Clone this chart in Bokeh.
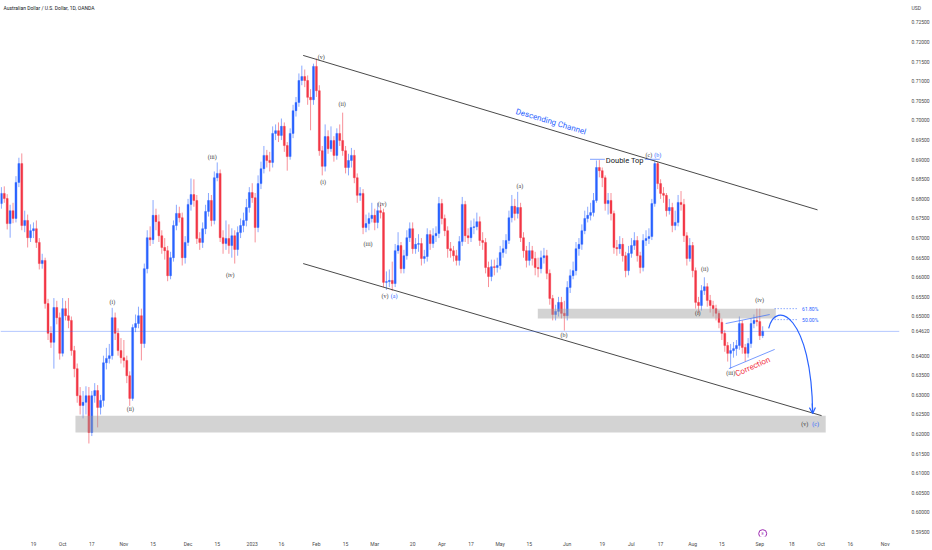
import numpy as np
import pandas as pd
from bokeh.plotting import figure
from bokeh.models import (LinearAxis, FixedTicker, Range1d, ColumnDataSource, Label,
                          Span, Arrow, OpenHead, PrintfTickFormatter, Grid)
from bokeh.core.properties import value
from bokeh.embed import file_html
from bokeh.resources import INLINE

# ---------------- data (AUDUSD daily, OANDA) ----------------
start_date = "2022-09-02"
first_open = 0.6788
closes = [
    0.6814, 0.6801, 0.6737, 0.6770, 0.6750, 0.6842, 0.6890, 0.6732, 0.6745, 0.6701, 0.6719,
    0.6724, 0.6689, 0.6635, 0.6643, 0.6533, 0.6457, 0.6434, 0.6523, 0.6497, 0.6406,
    0.6520, 0.6502, 0.6490, 0.6413, 0.6367, 0.6298, 0.6273, 0.6281, 0.6298, 0.6204,
    0.6298, 0.6311, 0.6268, 0.6286, 0.6382, 0.6393, 0.6400, 0.6497, 0.6457, 0.6413,
    0.6395, 0.6388, 0.6349, 0.6291, 0.6472, 0.6482, 0.6502, 0.6431, 0.6622, 0.6701,
    0.6696, 0.6758, 0.6742, 0.6706, 0.6676, 0.6668, 0.6604, 0.6650, 0.6732, 0.6763,
    0.6752, 0.6650, 0.6689, 0.6786, 0.6811, 0.6796, 0.6699, 0.6689, 0.6724, 0.6768,
    0.6796, 0.6745, 0.6854, 0.6865, 0.6701, 0.6686, 0.6699, 0.6681, 0.6706, 0.6671,
    0.6714, 0.6732, 0.6745, 0.6778, 0.6816, 0.6803, 0.6727, 0.6839, 0.6877, 0.6911,
    0.6898, 0.6893, 0.6967, 0.6974, 0.6962, 0.6985, 0.6936, 0.6908, 0.6967, 0.7025,
    0.7046, 0.7102, 0.7112, 0.7102, 0.7059, 0.7053, 0.7138, 0.7076, 0.6923, 0.6883,
    0.6959, 0.6928, 0.6949, 0.6911, 0.6967, 0.6949, 0.6923, 0.6880, 0.6898, 0.6911,
    0.6854, 0.6809, 0.6814, 0.6727, 0.6737, 0.6750, 0.6758, 0.6740, 0.6770, 0.6765,
    0.6587, 0.6589, 0.6592, 0.6584, 0.6668, 0.6681, 0.6622, 0.6655, 0.6701, 0.6724,
    0.6673, 0.6684, 0.6686, 0.6648, 0.6653, 0.6709, 0.6686, 0.6706, 0.6712, 0.6788,
    0.6750, 0.6719, 0.6673, 0.6668, 0.6655, 0.6643, 0.6691, 0.6786, 0.6706, 0.6701,
    0.6727, 0.6729, 0.6742, 0.6694, 0.6689, 0.6625, 0.6602, 0.6627, 0.6625, 0.6630,
    0.6663, 0.6673, 0.6694, 0.6752, 0.6781, 0.6763, 0.6778, 0.6701, 0.6668, 0.6643,
    0.6668, 0.6648, 0.6625, 0.6622, 0.6650, 0.6655, 0.6610, 0.6546, 0.6505, 0.6513,
    0.6536, 0.6508, 0.6502, 0.6574, 0.6604, 0.6617, 0.6673, 0.6684, 0.6719, 0.6750,
    0.6758, 0.6765, 0.6796, 0.6880, 0.6872, 0.6854, 0.6788, 0.6796, 0.6763, 0.6676,
    0.6673, 0.6684, 0.6655, 0.6617, 0.6661, 0.6681, 0.6694, 0.6655, 0.6625, 0.6694,
    0.6699, 0.6704, 0.6788, 0.6890, 0.6839, 0.6814, 0.6809, 0.6770, 0.6778, 0.6732,
    0.6740, 0.6791, 0.6786, 0.6706, 0.6648, 0.6681, 0.6617, 0.6536, 0.6528, 0.6566,
    0.6576, 0.6541, 0.6528, 0.6520, 0.6508, 0.6485, 0.6457, 0.6426, 0.6406, 0.6413,
    0.6418, 0.6426, 0.6482, 0.6421, 0.6406, 0.6431, 0.6482, 0.6490, 0.6487, 0.6451, 0.6462,
]
highs = [
    0.6830, 0.6832, 0.6812, 0.6785, 0.6790, 0.6858, 0.6905, 0.6916, 0.6770, 0.6760, 0.6735,
    0.6740, 0.6745, 0.6700, 0.6660, 0.6650, 0.6545, 0.6475, 0.6547, 0.6540, 0.6510,
    0.6547, 0.6540, 0.6547, 0.6500, 0.6425, 0.6380, 0.6320, 0.6310, 0.6322, 0.6320,
    0.6310, 0.6330, 0.6325, 0.6300, 0.6400, 0.6420, 0.6430, 0.6522, 0.6510, 0.6470,
    0.6445, 0.6440, 0.6400, 0.6360, 0.6480, 0.6505, 0.6525, 0.6520, 0.6635, 0.6720,
    0.6730, 0.6797, 0.6775, 0.6760, 0.6720, 0.6700, 0.6680, 0.6665, 0.6745, 0.6785,
    0.6780, 0.6765, 0.6705, 0.6800, 0.6852, 0.6850, 0.6810, 0.6715, 0.6740, 0.6785,
    0.6815, 0.6810, 0.6870, 0.6893, 0.6875, 0.6720, 0.6745, 0.6735, 0.6725, 0.6720,
    0.6730, 0.6750, 0.6765, 0.6800, 0.6830, 0.6840, 0.6815, 0.6860, 0.6895, 0.6935,
    0.6925, 0.6920, 0.6985, 0.6990, 0.6995, 0.7005, 0.6995, 0.6945, 0.6980, 0.7040,
    0.7060, 0.7120, 0.7140, 0.7130, 0.7115, 0.7080, 0.7145, 0.7158, 0.7090, 0.6935,
    0.6990, 0.6975, 0.6985, 0.6960, 0.6980, 0.6990, 0.7020, 0.6935, 0.6915, 0.6930,
    0.6925, 0.6865, 0.6830, 0.6825, 0.6760, 0.6765, 0.6790, 0.6775, 0.6790, 0.6785,
    0.6775, 0.6615, 0.6620, 0.6640, 0.6685, 0.6715, 0.6690, 0.6670, 0.6720, 0.6740,
    0.6740, 0.6700, 0.6710, 0.6700, 0.6670, 0.6725, 0.6720, 0.6725, 0.6730, 0.6805,
    0.6800, 0.6760, 0.6730, 0.6690, 0.6680, 0.6670, 0.6705, 0.6805, 0.6795, 0.6725,
    0.6745, 0.6750, 0.6765, 0.6755, 0.6715, 0.6700, 0.6640, 0.6645, 0.6645, 0.6650,
    0.6680, 0.6695, 0.6710, 0.6770, 0.6810, 0.6800, 0.6818, 0.6790, 0.6715, 0.6680,
    0.6690, 0.6680, 0.6665, 0.6650, 0.6668, 0.6675, 0.6670, 0.6620, 0.6555, 0.6530,
    0.6550, 0.6550, 0.6540, 0.6590, 0.6620, 0.6640, 0.6690, 0.6700, 0.6735, 0.6770,
    0.6780, 0.6790, 0.6815, 0.6898, 0.6899, 0.6880, 0.6860, 0.6815, 0.6815, 0.6770,
    0.6695, 0.6705, 0.6700, 0.6665, 0.6680, 0.6700, 0.6715, 0.6705, 0.6665, 0.6710,
    0.6720, 0.6725, 0.6800, 0.6898, 0.6895, 0.6850, 0.6830, 0.6815, 0.6800, 0.6790,
    0.6770, 0.6810, 0.6820, 0.6800, 0.6715, 0.6700, 0.6690, 0.6625, 0.6550, 0.6580,
    0.6600, 0.6585, 0.6555, 0.6540, 0.6530, 0.6515, 0.6495, 0.6465, 0.6435, 0.6430,
    0.6435, 0.6440, 0.6500, 0.6490, 0.6430, 0.6445, 0.6495, 0.6505, 0.6520, 0.6520, 0.6475,
]
lows = [
    0.6775, 0.6790, 0.6722, 0.6701, 0.6738, 0.6740, 0.6830, 0.6720, 0.6715, 0.6676, 0.6690,
    0.6700, 0.6675, 0.6620, 0.6622, 0.6520, 0.6440, 0.6420, 0.6367, 0.6480, 0.6390,
    0.6398, 0.6490, 0.6470, 0.6400, 0.6345, 0.6280, 0.6250, 0.6240, 0.6250, 0.6176,
    0.6195, 0.6280, 0.6217, 0.6250, 0.6270, 0.6365, 0.6380, 0.6390, 0.6440, 0.6400,
    0.6380, 0.6370, 0.6330, 0.6272, 0.6285, 0.6460, 0.6470, 0.6388, 0.6420, 0.6610,
    0.6680, 0.6685, 0.6720, 0.6690, 0.6660, 0.6645, 0.6590, 0.6595, 0.6640, 0.6720,
    0.6740, 0.6630, 0.6635, 0.6680, 0.6770, 0.6780, 0.6685, 0.6670, 0.6675, 0.6710,
    0.6755, 0.6730, 0.6735, 0.6845, 0.6690, 0.6660, 0.6670, 0.6660, 0.6650, 0.6635,
    0.6655, 0.6700, 0.6715, 0.6730, 0.6765, 0.6790, 0.6689, 0.6715, 0.6825, 0.6865,
    0.6880, 0.6870, 0.6880, 0.6950, 0.6945, 0.6950, 0.6920, 0.6872, 0.6900, 0.6955,
    0.7010, 0.7035, 0.7090, 0.7085, 0.7040, 0.6975, 0.7040, 0.7060, 0.6910, 0.6860,
    0.6870, 0.6915, 0.6920, 0.6895, 0.6900, 0.6935, 0.6910, 0.6865, 0.6860, 0.6880,
    0.6840, 0.6790, 0.6795, 0.6710, 0.6715, 0.6720, 0.6740, 0.6720, 0.6725, 0.6750,
    0.6575, 0.6568, 0.6575, 0.6565, 0.6575, 0.6660, 0.6610, 0.6610, 0.6645, 0.6690,
    0.6660, 0.6660, 0.6665, 0.6630, 0.6635, 0.6640, 0.6670, 0.6675, 0.6690, 0.6700,
    0.6735, 0.6705, 0.6650, 0.6650, 0.6640, 0.6630, 0.6630, 0.6680, 0.6690, 0.6685,
    0.6690, 0.6710, 0.6720, 0.6680, 0.6670, 0.6610, 0.6575, 0.6590, 0.6605, 0.6612,
    0.6620, 0.6650, 0.6660, 0.6685, 0.6740, 0.6745, 0.6750, 0.6690, 0.6650, 0.6625,
    0.6630, 0.6630, 0.6605, 0.6600, 0.6610, 0.6635, 0.6595, 0.6530, 0.6490, 0.6490,
    0.6500, 0.6495, 0.6464, 0.6490, 0.6560, 0.6595, 0.6605, 0.6655, 0.6670, 0.6710,
    0.6740, 0.6745, 0.6755, 0.6790, 0.6855, 0.6830, 0.6770, 0.6760, 0.6745, 0.6660,
    0.6655, 0.6660, 0.6640, 0.6600, 0.6605, 0.6650, 0.6670, 0.6640, 0.6610, 0.6615,
    0.6680, 0.6685, 0.6695, 0.6780, 0.6825, 0.6800, 0.6790, 0.6755, 0.6760, 0.6715,
    0.6720, 0.6730, 0.6770, 0.6690, 0.6630, 0.6640, 0.6600, 0.6520, 0.6508, 0.6515,
    0.6555, 0.6525, 0.6510, 0.6500, 0.6490, 0.6470, 0.6440, 0.6410, 0.6385, 0.6367,
    0.6395, 0.6400, 0.6415, 0.6405, 0.6385, 0.6395, 0.6420, 0.6470, 0.6475, 0.6440, 0.6445,
]

# time-axis ticks
tick_dates = ["2022-09-19", "2022-10-03", "2022-10-17", "2022-11-01", "2022-11-15",
              "2022-12-01", "2022-12-15", "2023-01-02", "2023-01-16", "2023-02-01",
              "2023-02-15", "2023-03-01", "2023-03-20", "2023-04-03", "2023-04-17",
              "2023-05-01", "2023-05-15", "2023-06-01", "2023-06-19", "2023-07-03",
              "2023-07-17", "2023-08-01", "2023-08-15", "2023-09-01", "2023-09-18",
              "2023-10-02", "2023-10-16", "2023-11-01"]
tick_labels = ["19", "Oct", "17", "Nov", "15", "Dec", "15", "2023", "16", "Feb", "15",
               "Mar", "20", "Apr", "17", "May", "15", "Jun", "19", "Jul", "17", "Aug",
               "15", "Sep", "18", "Oct", "16", "Nov"]
price_ticks = [0.595, 0.600, 0.605, 0.610, 0.615, 0.620, 0.625, 0.630, 0.635, 0.640,
               0.650, 0.655, 0.660, 0.665, 0.670, 0.675, 0.680, 0.685, 0.690,
               0.695, 0.700, 0.705, 0.710, 0.715, 0.720, 0.725]
last_price = 0.6462
last_price_label = "0.64620"
currency_pos = 0.72882
currency_label = "USD"

# Elliott wave labels (bar index, price)
wave_x = [38.05, 44.22, 72.3, 78.47, 109.63, 110.32, 116.82, 125.72, 130.52, 131.55, 134.63,
          177.78, 192.85, 221.96, 225.04, 238.74, 241.14, 250.04, 259.97, 275.38, 279.15]
wave_y = [0.6536, 0.6265, 0.6908, 0.6607, 0.7163, 0.6844, 0.7041, 0.6684, 0.6786, 0.6551, 0.6551,
          0.6832, 0.6454, 0.6913, 0.6913, 0.6510, 0.6620, 0.6355, 0.6541, 0.6225, 0.6225]
wave_text = ["(i)", "(ii)", "(iii)", "(iv)", "(v)", "(i)", "(ii)", "(iii)", "(iv)", "(v)", "(a)",
             "(a)", "(b)", "(c)", "(b)", "(i)", "(ii)", "(iii)", "(iv)", "(v)", "(c)"]
wave_blue = [False, False, False, False, False, False, False, False, False, False, True,
             False, False, False, True, False, False, False, False, False, True]

# channel lines
chan_x0 = [103.46, 103.46]
chan_y0 = [0.7166, 0.6635]
chan_x1 = [279.8, 281.2]
chan_y1 = [0.6772, 0.6247]

# support zones
zone_left = [25.4, 183.9]
zone_right = [282.6, 265.5]
zone_bottom = [0.6204, 0.6495]
zone_top = [0.6247, 0.6520]

# fib levels
fib_levels = [0.6520, 0.6492]
fib_labels = ["61.80%", "50.00%"]
fib_x0, fib_x1 = 265.1, 273.0

# ---------------- figure ----------------
BLUE = "#2962ff"
RED = "#f23645"
n = min(len(closes), len(highs), len(lows))
closes_a = np.array(closes[:n])
opens_a = np.array([first_open] + closes[:n - 1])
highs_a = np.array(highs[:n])
lows_a = np.array(lows[:n])
idx = np.arange(n)

dates = pd.bdate_range(start_date, periods=400)
date_pos = {d.strftime("%Y-%m-%d"): i for i, d in enumerate(dates)}
tick_pos = [int(date_pos[d]) for d in tick_dates]

p = figure(width=932, height=550, output_backend="svg", toolbar_location=None,
           x_range=Range1d(-0.30, 307.9), y_range=Range1d(0.593875, 0.73061),
           x_axis_location=None, y_axis_location=None,
           min_border_left=0, min_border_top=0, min_border_right=32, min_border_bottom=14)
p.outline_line_color = None
p.background_fill_color = "white"
p.border_fill_color = "white"
for r in list(p.center):
    if isinstance(r, Grid):
        r.visible = False

xaxis = LinearAxis(ticker=FixedTicker(ticks=tick_pos),
                   major_label_overrides={t: l for t, l in zip(tick_pos, tick_labels)})
yaxis = LinearAxis(ticker=FixedTicker(ticks=price_ticks + [last_price, currency_pos]),
                   formatter=PrintfTickFormatter(format="%.5f"),
                   major_label_overrides={last_price: last_price_label,
                                          currency_pos: currency_label})
for ax in (xaxis, yaxis):
    ax.axis_line_color = None
    ax.major_tick_line_color = None
    ax.minor_tick_line_color = None
    ax.major_tick_out = 0
    ax.major_tick_in = 0
    ax.minor_tick_out = 0
    ax.minor_tick_in = 0
    ax.major_label_text_font_size = "5px"
    ax.major_label_text_color = "#4a4a4a"
    ax.major_label_text_font = "Roboto"
xaxis.major_label_standoff = 4
yaxis.major_label_standoff = 12
p.add_layout(xaxis, "below")
p.add_layout(yaxis, "right")

# current price line
p.add_layout(Span(location=last_price, dimension="width", line_color=BLUE,
                  line_alpha=0.35, line_width=1))

# candles
up = closes_a >= opens_a
for mask, col in ((up, BLUE), (~up, RED)):
    src = ColumnDataSource(dict(
        x=idx[mask], h=highs_a[mask], l=lows_a[mask],
        top=np.maximum(opens_a, closes_a)[mask], bot=np.minimum(opens_a, closes_a)[mask]))
    p.segment(x0="x", y0="l", x1="x", y1="h", source=src, line_color=col,
              line_alpha=0.55, line_width=1)
    p.vbar(x="x", width=0.66, top="top", bottom="bot", source=src,
           fill_color=col, line_color=col, line_width=0.4)

# gray zones
p.quad(left=zone_left, right=zone_right, bottom=zone_bottom, top=zone_top,
       fill_color="#9e9e9e", fill_alpha=0.45, line_color=None)

# channel
p.segment(x0=chan_x0, y0=chan_y0, x1=chan_x1, y1=chan_y1, line_color="#4a4a4a", line_width=1)
p.text(x=[188.4], y=[0.6997], text=["Descending Channel"], angle=-0.29,
       text_font=value("Roboto"), text_font_size="8px", text_color=BLUE,
       text_align="center", text_baseline="middle")

# double top
p.segment(x0=[201.8, 220.6], y0=[0.6901, 0.6901], x1=[206.9, 225.7], y1=[0.6901, 0.6901],
          line_color=BLUE, line_alpha=0.6, line_width=1)
p.text(x=[213.7], y=[0.6899], text=["Double Top"], text_font=value("Roboto"),
       text_font_size="7.5px", text_color="#131722", text_align="center", text_baseline="middle")

# fib levels
for lvl, lab in zip(fib_levels, fib_labels):
    p.segment(x0=[fib_x0], y0=[lvl], x1=[fib_x1], y1=[lvl], line_color=BLUE,
              line_width=0.8, line_dash="1 2")
    p.text(x=[fib_x1 + 1.5], y=[lvl], text=[lab], text_font=value("Roboto"),
           text_font_size="5px", text_color=BLUE, text_align="left", text_baseline="middle")

# correction triangle
p.segment(x0=[248.3, 249.4], y0=[0.6482, 0.6367], x1=[263.4, 265.1], y1=[0.6505, 0.6416],
          line_color=BLUE, line_width=0.8, line_alpha=0.8)
p.text(x=[257.6], y=[0.6372], text=["Correction"], angle=0.42, text_font=value("Roboto"),
       text_font_size="8px", text_color=RED, text_align="center", text_baseline="middle")

# projected path
p.bezier(x0=[263.05], y0=[0.64694], x1=[278.13], y1=[0.62525],
         cx0=[265.45], cy0=[0.65459], cx1=[277.79], cy1=[0.65025],
         line_color=BLUE, line_width=1.2)
p.add_layout(Arrow(end=OpenHead(size=6, line_color=BLUE, line_width=1.2),
                   x_start=278.0, y_start=0.6278, x_end=278.13, y_end=0.62525,
                   line_color=BLUE, line_width=1.2))

# wave labels
wsrc = ColumnDataSource(dict(x=wave_x, y=wave_y, t=wave_text,
                             c=[BLUE if b else "#3b3b3b" for b in wave_blue]))
p.text(x="x", y="y", text="t", source=wsrc, text_color="c", text_font=value("Liberation Serif"),
       text_font_size="6px", text_align="center", text_baseline="middle")

# event marker
p.scatter(x=[261], y=[0.5946], size=8, marker="circle", fill_color="white",
          line_color="#9c27b0", line_width=1)
p.text(x=[261], y=[0.5946], text=["E"], text_font=value("Roboto"), text_font_size="4px",
       text_color="#9c27b0", text_align="center", text_baseline="middle")

# header
p.add_layout(Label(x=0.73, y=0.72882, text="Australian Dollar / U.S. Dollar, 1D, OANDA",
                   text_font="Roboto", text_font_size="5px", text_color="#131722",
                   text_baseline="middle", text_align="left"))

open("out.html", "w").write(file_html(p, INLINE))
